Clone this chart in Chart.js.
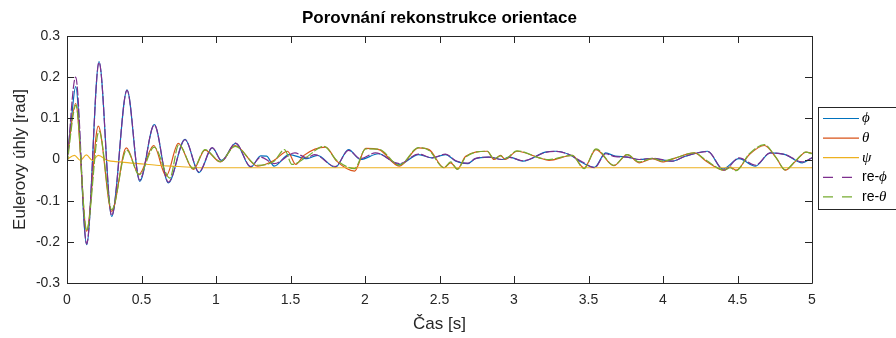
<!DOCTYPE html>
<html>
<head>
<meta charset="utf-8">
<script src="https://cdn.jsdelivr.net/npm/chart.js@4/dist/chart.umd.min.js"></script>
<style>
	html, body { margin: 0; background: #fff; }
</style>
</head>
<body>
<canvas id="OrientChart" width="896" height="338"></canvas>
<script>
const chartTitle = "Porovnání rekonstrukce orientace"

// tick labels
const xTicks = [0, 0.5, 1, 1.5, 2, 2.5, 3, 3.5, 4, 4.5, 5]
const yTicks = [-0.3, -0.2, -0.1, 0, 0.1, 0.2, 0.3]

// phi (measured)
const phiT = [0, 0.03, 0.058, 0.132, 0.215, 0.3, 0.403, 0.488, 0.586, 0.68, 0.792, 0.886, 0.975, 1.038, 1.132, 1.233, 1.3, 1.34, 1.39, 1.49, 1.61, 1.68, 1.8, 1.89, 1.97, 2.09, 2.23, 2.36, 2.45, 2.54, 2.61, 2.69, 2.74, 2.83, 2.92, 2.97, 3.06, 3.21, 3.28, 3.37, 3.46, 3.54, 3.615, 3.68, 3.76, 3.84, 3.93, 4.06, 4.15, 4.3, 4.4, 4.51, 4.62, 4.72, 4.82, 4.935, 5]
const phiV = [0, 0.1, 0.177, -0.207, 0.238, -0.138, 0.169, -0.053, 0.085, -0.057, 0.049, -0.032, 0.028, -0.002, 0.039, -0.019, 0.009, 0.008, -0.016, 0.012, 0.002, 0.01, -0.019, 0.024, 0, 0.014, -0.012, 0.012, 0.004, 0.012, -0.004, -0.01, 0.002, 0.006, 0, 0.006, -0.004, 0.018, 0.02, 0.012, -0.008, -0.019, 0.016, 0.008, 0.006, 0, 0.002, -0.004, 0.008, 0.02, -0.023, 0.002, -0.016, 0.016, 0.012, -0.008, 0.004]

// theta (measured)
const thetaT = [0, 0.058, 0.132, 0.21, 0.3, 0.398, 0.483, 0.582, 0.666, 0.747, 0.848, 0.926, 1.03, 1.128, 1.28, 1.39, 1.48, 1.535, 1.59, 1.736, 1.81, 1.93, 2.005, 2.094, 2.23, 2.36, 2.43, 2.53, 2.575, 2.62, 2.676, 2.82, 2.866, 2.91, 2.94, 3.02, 3.17, 3.235, 3.39, 3.47, 3.55, 3.67, 3.76, 3.84, 3.93, 3.995, 4.085, 4.21, 4.29, 4.41, 4.45, 4.49, 4.58, 4.68, 4.76, 4.82, 4.89, 4.96, 5]
const thetaV = [0, 0.136, -0.174, 0.081, -0.126, 0.028, -0.036, 0.034, -0.04, 0.039, -0.024, 0.023, -0.006, 0.034, -0.016, -0.002, 0.02, -0.012, 0.01, 0.03, -0.004, -0.028, 0.027, 0.024, -0.016, 0.028, 0.024, -0.02, -0.008, -0.023, 0.008, 0.02, 0, 0.01, 0, 0.02, 0.004, -0.002, 0.01, -0.02, 0.024, -0.015, 0.012, -0.008, 0.002, -0.006, 0.004, 0.016, -0.004, -0.026, -0.018, -0.026, 0.012, 0.034, 0.004, -0.026, -0.004, 0.018, 0.015]

// psi (measured)
const psiT = [0, 0.05, 0.09, 0.13, 0.17, 0.21, 0.27, 0.35, 0.48, 0.6, 0.75, 0.9, 1, 5]
const psiV = [0, 0.01, -0.002, 0.011, -0.002, 0.01, -0.002, -0.006, -0.01, -0.014, -0.017, -0.02, -0.02, -0.02]

// re-phi (reconstructed)
const rePhiT = [0, 0.058, 0.132, 0.215, 0.3, 0.403, 0.488, 0.586, 0.68, 0.792, 0.886, 0.975, 1.038, 1.132, 1.233, 1.3, 1.39, 1.53, 1.61, 1.66, 1.8, 1.89, 1.97, 2.07, 2.23, 2.36, 2.45, 2.54, 2.61, 2.69, 2.74, 2.83, 2.92, 2.97, 3.06, 3.21, 3.28, 3.37, 3.46, 3.54, 3.615, 3.68, 3.76, 3.84, 3.93, 4.06, 4.15, 4.3, 4.41, 4.51, 4.62, 4.72, 4.82, 4.935, 5]
const rePhiV = [-0.015, 0.2, -0.205, 0.236, -0.136, 0.168, -0.05, 0.084, -0.055, 0.048, -0.03, 0.029, -0.004, 0.04, -0.017, 0.006, -0.01, 0.016, 0.004, 0.012, -0.017, 0.022, 0.002, 0.016, -0.01, 0.013, 0.004, 0.013, -0.003, -0.009, 0.002, 0.006, 0, 0.005, -0.003, 0.017, 0.02, 0.012, -0.006, -0.02, 0.014, 0.007, 0.006, 0, 0.003, -0.004, 0.008, 0.019, -0.026, 0.004, -0.014, 0.016, 0.012, -0.006, 0.004]

// re-theta (reconstructed)
const reThetaT = [0, 0.06, 0.132, 0.215, 0.3, 0.4, 0.485, 0.585, 0.69, 0.75, 0.848, 0.926, 1.03, 1.128, 1.28, 1.39, 1.46, 1.51, 1.6, 1.725, 1.81, 1.93, 2.005, 2.094, 2.23, 2.36, 2.43, 2.53, 2.575, 2.62, 2.676, 2.82, 2.866, 2.91, 2.94, 3.02, 3.17, 3.235, 3.39, 3.47, 3.55, 3.67, 3.76, 3.84, 3.93, 3.995, 4.085, 4.21, 4.29, 4.41, 4.45, 4.49, 4.58, 4.68, 4.76, 4.82, 4.89, 4.96, 5]
const reThetaV = [-0.012, 0.132, -0.172, 0.069, -0.122, 0.023, -0.037, 0.03, -0.045, 0.036, -0.022, 0.024, -0.005, 0.032, -0.014, -0.004, 0.024, -0.012, 0.004, 0.032, -0.002, -0.022, 0.026, 0.025, -0.014, 0.029, 0.022, -0.02, -0.006, -0.024, 0.006, 0.02, 0.002, 0.009, 0.002, 0.021, 0.004, 0, 0.01, -0.022, 0.026, -0.014, 0.012, -0.006, 0.003, -0.004, 0.004, 0.016, -0.002, -0.026, -0.02, -0.027, 0.014, 0.036, 0.004, -0.025, -0.003, 0.018, 0.014]

const labels = ["ϕ", "θ", "ψ", "re-ϕ", "re-θ"]
const colors = ["#0072BD", "#D95319", "#EDB120", "#7E2F8E", "#77AC30"]

const pts = (t, v) => t.map((x, i) => ({ x, y: v[i] }))
const seriesData = [pts(phiT, phiV), pts(thetaT, thetaV), pts(psiT, psiV), pts(rePhiT, rePhiV), pts(reThetaT, reThetaV)]

const sans = "'Liberation Sans', Arial, sans-serif"
const serif = "'Liberation Serif', 'DejaVu Serif', serif"

// title over the axes, box with inward ticks and MATLAB style legend
const matlabBox = {
	id: "matlabBox",
	afterDraw(chart) {
		const { ctx, chartArea: a, scales } = chart
		ctx.save()
		ctx.fillStyle = "#000"
		ctx.font = "bold 17px " + sans
		ctx.textAlign = "center"
		ctx.textBaseline = "middle"
		ctx.fillText(chartTitle, (a.left + a.right) / 2, 18)
		ctx.textAlign = "left"

		ctx.strokeStyle = "#262626"
		ctx.lineWidth = 1
		ctx.beginPath()
		ctx.rect(Math.round(a.left) + 0.5, Math.round(a.top) + 0.5, Math.round(a.right - a.left), Math.round(a.bottom - a.top))
		xTicks.forEach((v) => {
			const px = Math.round(scales.x.getPixelForValue(v)) + 0.5
			ctx.moveTo(px, a.bottom); ctx.lineTo(px, a.bottom - 7)
			ctx.moveTo(px, a.top); ctx.lineTo(px, a.top + 7)
		})
		yTicks.forEach((v) => {
			const py = Math.round(scales.y.getPixelForValue(v)) + 0.5
			ctx.moveTo(a.left, py); ctx.lineTo(a.left + 7, py)
			ctx.moveTo(a.right, py); ctx.lineTo(a.right - 7, py)
		})
		ctx.stroke()

		// legend
		const lx = 818.5, ly = 107.5, rowH = 19.6
		ctx.fillStyle = "#fff"
		ctx.fillRect(lx, ly, 100, 102)
		ctx.strokeRect(lx, ly, 100, 102)
		chart.data.datasets.forEach((ds, i) => {
			const y = ly + 11 + i * rowH
			ctx.strokeStyle = ds.borderColor
			ctx.lineWidth = 1.2
			ctx.setLineDash(ds.legendDash || [])
			ctx.beginPath(); ctx.moveTo(823, y); ctx.lineTo(859, y); ctx.stroke()
			ctx.setLineDash([])
			ctx.fillStyle = "#000"
			let tx = 862
			const label = ds.label
			if (label.startsWith("re-")) {
				ctx.font = "14px " + sans
				ctx.fillText("re-", tx, y)
				tx += ctx.measureText("re-").width
			}
			ctx.font = "italic 15px " + serif
			ctx.fillText(label.replace("re-", ""), tx, y)
		})
		ctx.restore()
	},
}

const ctx = document.getElementById("OrientChart").getContext("2d")

new Chart(ctx, {
	type: "line",
	data: {
		datasets: labels.map((label, i) => ({
			label,
			data: seriesData[i],
			borderColor: colors[i],
			borderWidth: 1.2,
			borderDash: i > 2 ? [9, 2] : [],
			legendDash: i > 2 ? [10, 9] : [],
			pointRadius: 0,
			fill: false,
			cubicInterpolationMode: "monotone",
			order: 5 - i,
		})),
	},
	options: {
		responsive: false,
		animation: false,
		layout: { padding: { top: 36, right: 84 } },
		plugins: {
			legend: { display: false },
			tooltip: { enabled: false },
			title: { display: false },
		},
		scales: {
			x: {
				type: "linear",
				min: 0,
				max: 5,
				afterBuildTicks: (s) => { s.ticks = xTicks.map((value) => ({ value })) },
				afterFit: (s) => { s.height = 55 },
				grid: { display: false, drawTicks: false },
				border: { display: false },
				ticks: { color: "#262626", font: { family: sans, size: 14 }, padding: 9, maxRotation: 0, callback: (v) => String(v) },
				title: { display: true, text: "Čas [s]", color: "#262626", font: { family: sans, size: 17 }, padding: { top: 0, bottom: 3 } },
			},
			y: {
				min: -0.3,
				max: 0.3,
				afterBuildTicks: (s) => { s.ticks = yTicks.map((value) => ({ value })) },
				afterFit: (s) => { s.width = 67 },
				grid: { display: false, drawTicks: false },
				border: { display: false },
				ticks: { color: "#262626", font: { family: sans, size: 14 }, padding: 7, callback: (v) => String(v) },
				title: { display: true, text: "Eulerovy úhly [rad]", color: "#262626", font: { family: sans, size: 17 }, padding: { top: 10, bottom: 0 } },
			},
		},
	},
	plugins: [matlabBox],
})
</script>
</body>
</html>
